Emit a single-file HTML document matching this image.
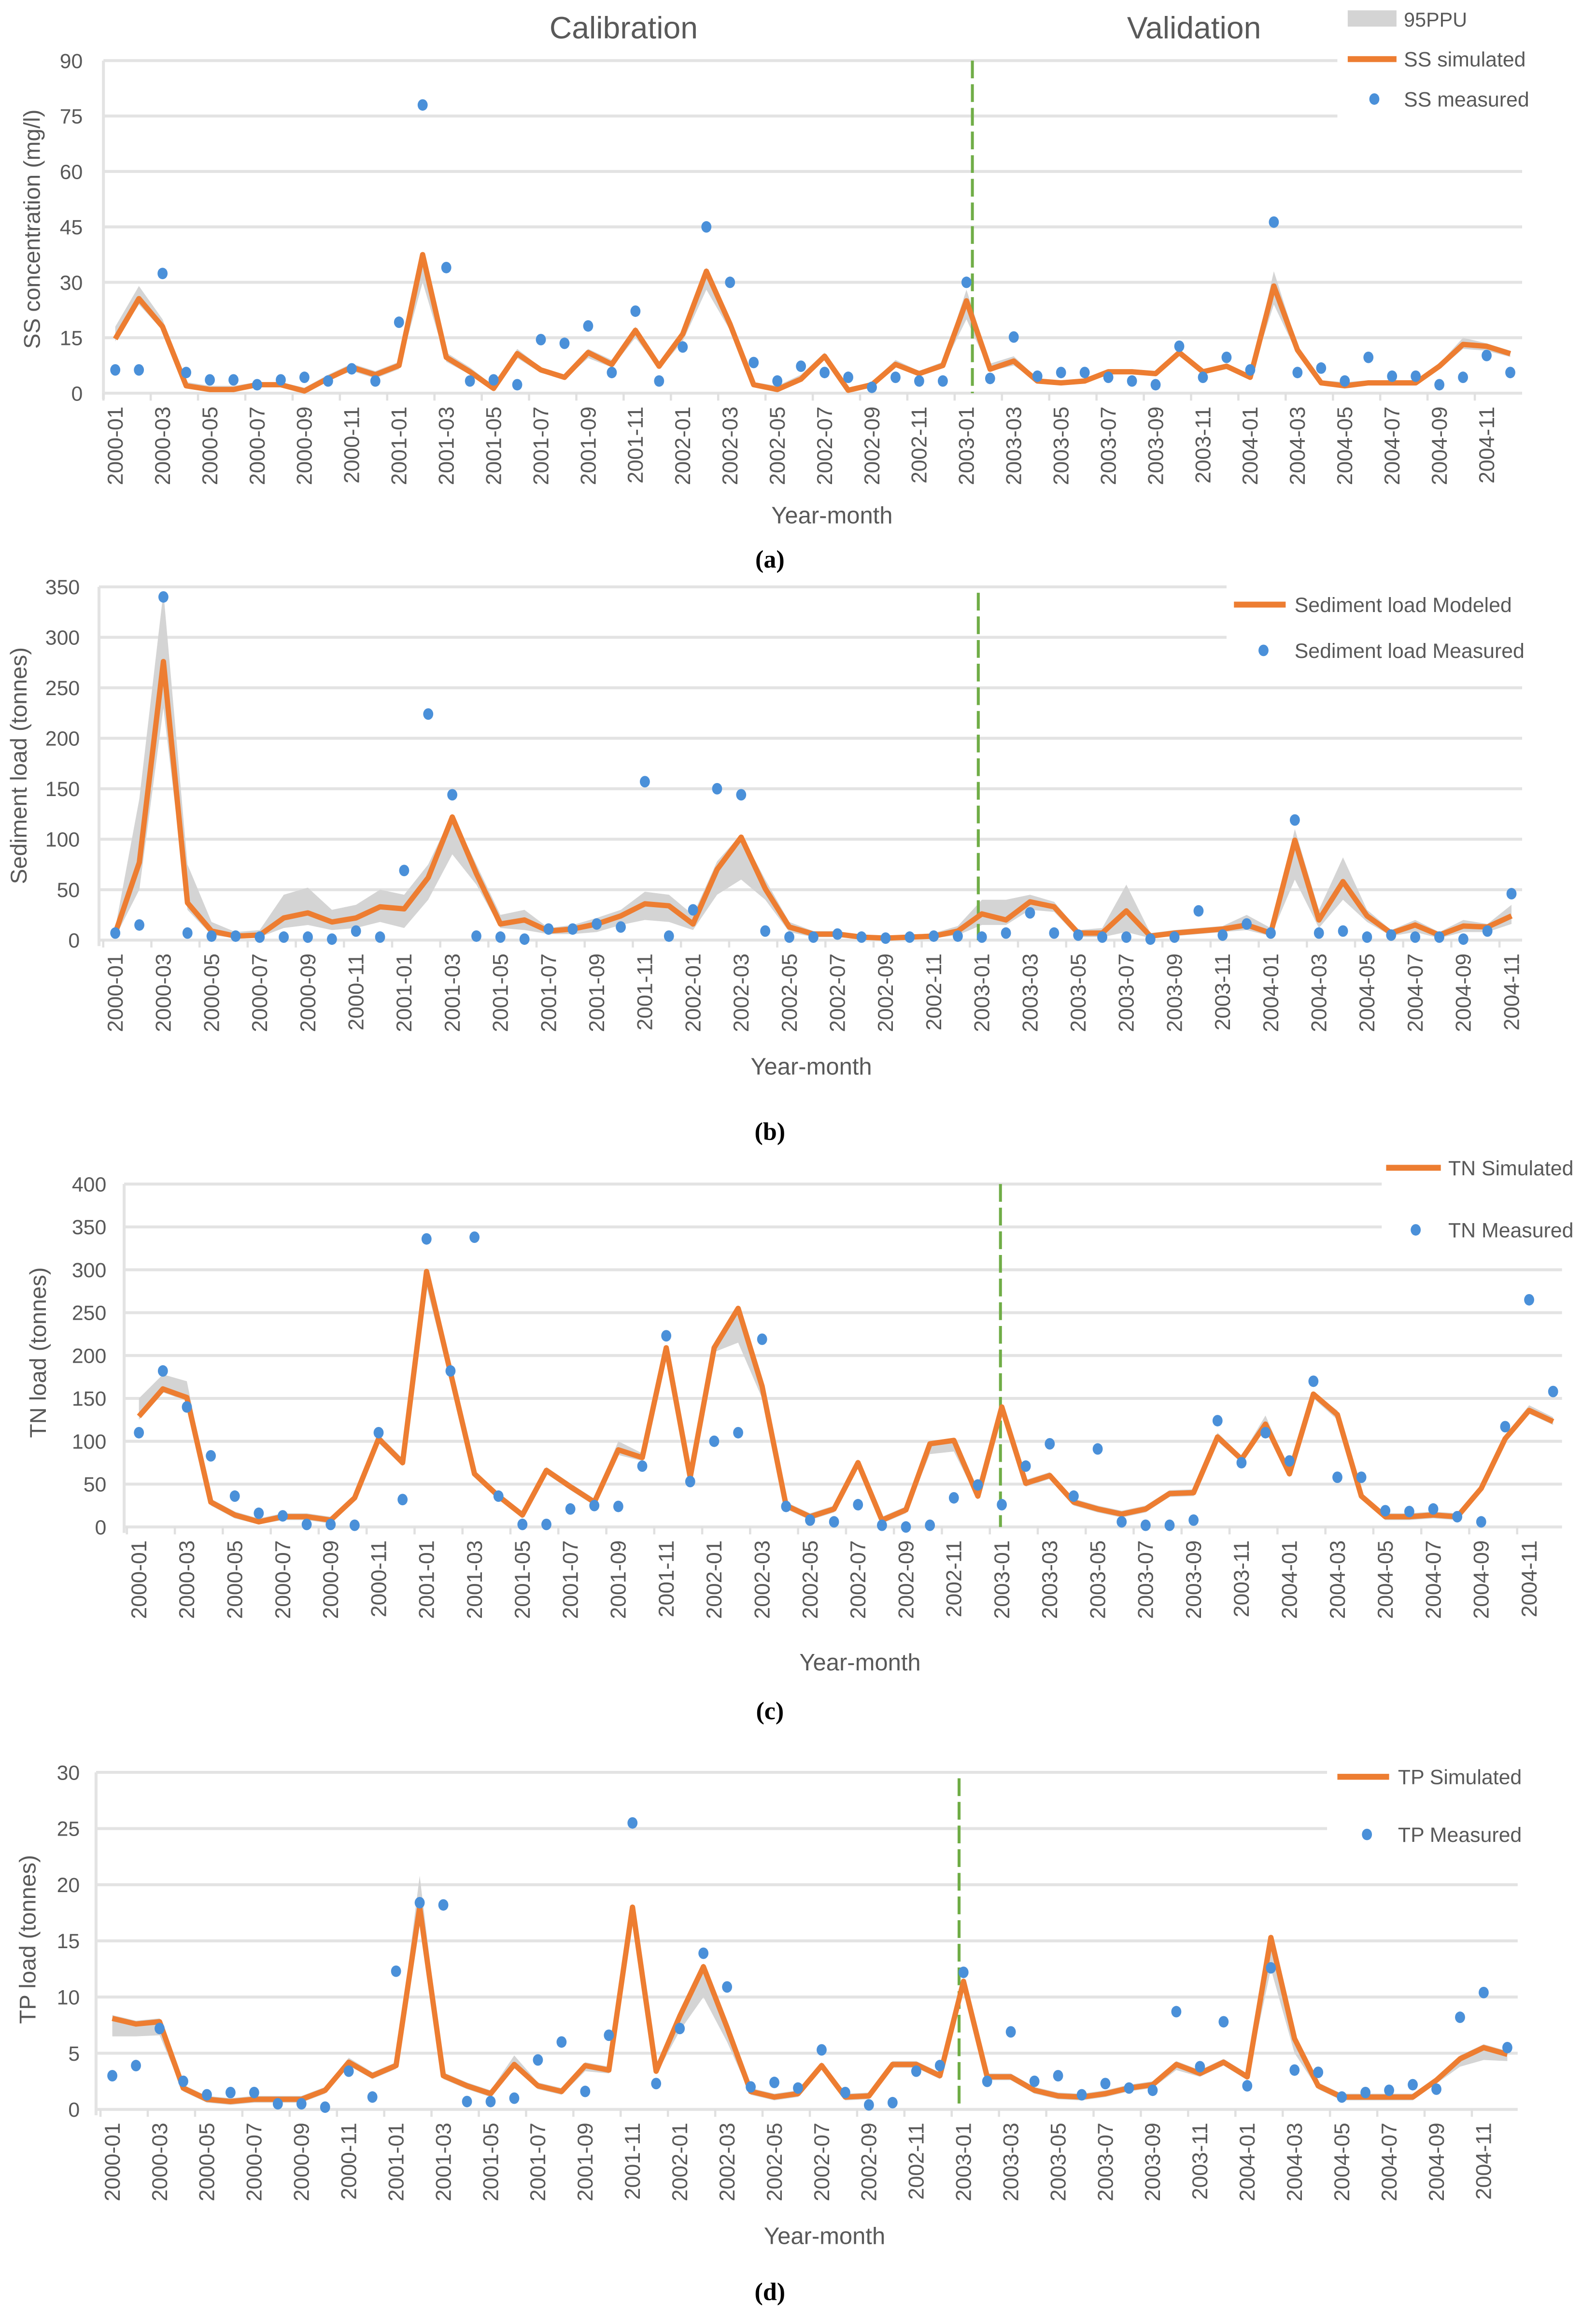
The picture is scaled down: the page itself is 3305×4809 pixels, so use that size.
<!DOCTYPE html>
<html><head><meta charset="utf-8">
<style>
html,body{margin:0;padding:0;background:#fff;}
svg{display:block;}
text{font-family:"Liberation Sans",sans-serif;fill:#595959;}
</style></head>
<body>
<svg id="fig" xmlns="http://www.w3.org/2000/svg" width="3305" height="4809" viewBox="0 0 1080 1571.5" preserveAspectRatio="none">
<rect x="0" y="0" width="1080" height="1571.5" fill="#fff"/>
<text x="422" y="26" font-size="21" text-anchor="middle">Calibration</text>
<text x="808" y="26" font-size="21" text-anchor="middle">Validation</text>
</svg>
<script>
// ---------- data ----------
const ssSim=[14.7,25.6,18,2,1,1,2.3,2.3,0.6,4,7,5,7.5,37.5,9.7,5.8,1.3,10.7,6.3,4.3,11,7.8,17,7.3,16,33,18.7,2.3,1,3.8,10,0.8,2.3,7.8,5.3,7.5,25,6.5,8.7,3.3,2.8,3.3,5.8,5.8,5.3,11,5.8,7.3,4.3,29,11.7,2.8,2,2.8,2.8,2.8,7.3,13.2,12.7,10.7];
const ssHi=[18,29,20,3,2,2,3,3,1.5,5,8,6,8.5,38,11,7,2,12,7,5,12,9,18,8.5,17,34,20,3,2,5,11,1.5,3,9,6,8.5,28,8,10,4,3.5,4,6.5,6.5,6,12,6.5,8,5,33,13,3.5,3,3.5,3.5,3.5,8,15,13.5,11.5];
const ssLo=[14,24,17,1.5,0.5,0.5,2,2,0.3,3.5,6,4,6.5,30,8.5,5,1,9.5,5.5,3.8,9.5,7,15,6.5,14,28,17,2,0.7,3.3,9,0.5,2,7,4.8,7,20,6,7.5,3,2.5,3,5.2,5.2,4.8,10,5.2,6.5,4,24,10.5,2.3,1.7,2.3,2.3,2.3,6.5,12,11.5,9.8];
const ssMeas=[6.3,6.3,32.4,5.6,3.6,3.6,2.3,3.6,4.3,3.3,6.6,3.3,19.2,78,34,3.3,3.6,2.3,14.5,13.5,18.2,5.6,22.2,3.3,12.5,45,30,8.3,3.3,7.3,5.6,4.3,1.6,4.3,3.3,3.3,30,4,15.2,4.6,5.6,5.6,4.3,3.3,2.3,12.7,4.3,9.7,6.3,46.3,5.6,6.8,3.3,9.7,4.6,4.6,2.3,4.3,10.2,5.6];

const sedSim=[7,77,276,37,9,4,5,22,27,18,22,33,31,62,122,66,16,20,9,11,16,24,36,34,16,70,102,51,13,6,6,3,2,3,4,9,26,20,38,33,7,7,29,4,7,9,11,15,7,99,20,58,24,7,15,5,14,13,24];
const sedHi=[12,140,345,75,18,8,10,45,52,30,35,50,45,75,125,75,25,30,12,15,22,30,48,45,25,78,105,60,18,9,9,5,4,5,7,14,40,40,45,38,10,12,55,7,10,12,14,25,12,110,30,82,30,10,20,8,20,16,35];
const sedLo=[3,50,230,30,5,2,3,12,15,10,12,18,12,40,85,55,12,10,6,6,8,15,20,18,10,45,60,40,8,3,3,1,0.5,1,2,5,15,15,30,28,3,3,8,2,4,6,8,10,4,60,12,40,18,4,8,2,8,8,16];
const sedMeas=[7,15,340,7,4,4,3,3,3,1,9,3,69,224,144,4,3,1,11,11,16,13,157,4,30,150,144,9,3,3,6,3,2,3,4,4,3,7,27,7,5,3,3,1,3,29,5,16,7,119,7,9,3,5,3,3,1,9,46];

const tnSim=[129,161,151,29,14,6,12,12,8,34,103,75,298,180,62,36,14,66,47,29,90,81,209,58,209,255,164,25,12,21,75,8,20,97,101,36,140,51,60,29,21,15,21,39,40,105,79,120,62,155,131,36,12,12,14,12,45,103,136,123];
const tnHi=[150,178,170,33,18,10,16,16,12,38,108,80,300,190,66,40,18,70,51,33,100,86,212,62,214,258,168,29,16,25,79,12,24,100,104,40,143,55,64,33,25,19,25,43,44,110,83,130,66,157,136,40,16,16,18,16,49,107,142,128];
const tnLo=[125,157,147,25,10,3,8,8,4,30,98,71,280,170,58,32,10,62,43,25,84,77,204,54,204,215,150,21,8,17,71,4,16,85,88,32,135,47,56,25,17,11,17,35,36,100,75,115,58,150,125,32,8,8,10,8,41,99,132,119];
const tnMeas=[110,182,140,83,36,16,13,3,3,2,110,32,336,182,338,36,3,3,21,25,24,71,223,53,100,110,219,24,8,6,26,2,0,2,34,49,26,71,97,36,91,6,2,2,8,124,75,110,77,170,58,58,19,18,21,12,6,117,265,158];

const tpSim=[8.1,7.6,7.8,1.9,0.9,0.7,0.9,0.9,0.9,1.7,4.2,3.0,3.9,18,3.0,2.1,1.4,4,2.1,1.6,3.9,3.5,18,3.4,8.3,12.7,7.3,1.6,1.1,1.4,3.9,1.1,1.2,4.0,4.0,3.0,11.4,2.9,2.9,1.7,1.2,1.1,1.4,1.9,2.2,4.0,3.2,4.2,2.9,15.3,6.3,2.1,1.1,1.1,1.1,1.1,2.6,4.5,5.5,4.9];
const tpHi=[8.4,7.9,8.1,2.2,1.2,1.0,1.2,1.2,1.2,2.0,4.6,3.3,4.2,20.8,3.3,2.4,1.7,4.8,2.4,1.9,4.2,3.8,18.3,3.7,8.6,13,7.6,1.9,1.4,1.7,4.2,1.4,1.5,4.3,4.3,3.3,11.7,3.2,3.2,2.0,1.5,1.4,1.7,2.2,2.5,4.3,3.5,4.5,3.2,15.6,6.6,2.4,1.4,1.4,1.4,1.4,2.9,4.8,5.8,5.2];
const tpLo=[6.5,6.5,6.6,1.6,0.6,0.4,0.6,0.6,0.6,1.4,3.9,2.7,3.6,17,2.7,1.8,1.1,3.7,1.8,1.3,3.4,3.2,17,3.1,7,10,6,1.3,0.8,1.1,3.6,0.8,0.9,3.7,3.7,2.7,11,2.6,2.6,1.4,0.9,0.8,1.1,1.6,1.9,3.5,2.9,3.9,2.6,12.5,5,1.8,0.8,0.8,0.8,0.8,2.3,3.8,4.4,4.3];
const tpMeas=[3.0,3.9,7.2,2.5,1.3,1.5,1.5,0.5,0.5,0.2,3.4,1.1,12.3,18.4,18.2,0.7,0.7,1.0,4.4,6.0,1.6,6.6,25.5,2.3,7.2,13.9,10.9,2.0,2.4,1.9,5.3,1.5,0.4,0.6,3.4,3.9,12.2,2.5,6.9,2.5,3.0,1.3,2.3,1.9,1.7,8.7,3.8,7.8,2.1,12.6,3.5,3.3,1.1,1.5,1.7,2.2,1.8,8.2,10.4,5.5];

const ssTicks=[0,15,30,45,60,75,90];
const sedTicks=[0,50,100,150,200,250,300,350];
const tnTicks=[0,50,100,150,200,250,300,350,400];
const tpTicks=[0,5,10,15,20,25,30];

const monthLabels=[];
for(let y=2000;y<=2004;y++){for(let m=1;m<=12;m++){monthLabels.push(y+'-'+(m<10?'0':'')+m);}}

// ---------- drawing ----------
const NS='http://www.w3.org/2000/svg';
const svg=document.getElementById('fig');
function mk(tag,attrs,parent){const e=document.createElementNS(NS,tag);for(const k in attrs)e.setAttribute(k,attrs[k]);(parent||svg).appendChild(e);return e;}

function drawPanel(c){
  const g=mk('g',{});
  
  
  const maxV=c.ticks[c.ticks.length-1];
  const xS=i=>c.x0+c.dx*i;
  const yS=v=>c.y0-(v/maxV)*(c.y0-c.yTop);
  // gridlines
  c.ticks.forEach((t,k)=>{
    const short=k>=c.ticks.length-c.nShort;
    const ln=mk('line',{x1:c.axisL,x2:short?c.shortR:c.gridR,y1:yS(t),y2:yS(t),stroke:'#e3e3e3','stroke-width':2},g);
    
    
    const tx=mk('text',{x:c.tickX,y:yS(t)+5,'font-size':14,'text-anchor':'end'},g);
    tx.textContent=t;
    
    
  });
  const ax=mk('line',{x1:c.axisL,x2:c.axisL,y1:c.yTop,y2:c.y0+4,stroke:'#e3e3e3','stroke-width':2},g);
  
  
  const n=c.sim.length;
  // x tick marks & labels
  for(let i=0;i<n;i++){
    if(i%2===0){
      const tx=mk('text',{x:0,y:0,'font-size':14.5,'text-anchor':'end',transform:'translate('+(xS(i)+5)+','+c.labTop+') rotate(-90)'},g);
      tx.textContent=monthLabels[i];
      
      
      const tk=mk('line',{x1:xS(i)-c.dx/2,x2:xS(i)-c.dx/2,y1:c.y0,y2:c.y0+5,stroke:'#e0e0e0','stroke-width':1.5},g);
      
      
    }
  }
  // band
  let pts=[];
  for(let i=0;i<n;i++)pts.push(xS(i)+','+yS(c.hi[i]));
  for(let i=n-1;i>=0;i--)pts.push(xS(i)+','+yS(c.lo[i]));
  const band=mk('polygon',{points:pts.join(' '),fill:'#d4d4d4'},g);
  
  
  // dashed line
  const vl=mk('line',{x1:c.vx,x2:c.vx,y1:c.vTop,y2:c.y0,stroke:'#70AD47','stroke-width':2,'stroke-dasharray':'12 4'},g);
  
  
  // sim line
  const lp=[];
  for(let i=0;i<n;i++)lp.push(xS(i)+','+yS(c.sim[i]));
  const pl=mk('polyline',{points:lp.join(' '),fill:'none',stroke:'#ED7D31','stroke-width':3.6,'stroke-linejoin':'round'},g);
  
  
  // measured
  c.meas.forEach((v,i)=>{
    const d=mk('ellipse',{cx:xS(i),cy:yS(v),rx:3.4,ry:3.9,fill:'#4A90D9'},g);
    
    
  });
  // titles
  const yt=mk('text',{x:0,y:0,'font-size':15.5,'text-anchor':'middle',transform:'translate('+c.ytX+','+c.ytY+') rotate(-90)'},g);
  yt.textContent=c.ytitle;
  
  
  const xt=mk('text',{x:c.xtX,y:c.xtY,'font-size':16,'text-anchor':'middle'},g);
  xt.textContent='Year-month';
  
  
  const cap=mk('text',{x:521,y:c.capY,'font-size':17,'font-weight':'bold','text-anchor':'middle',style:'font-family:"Liberation Serif",serif;fill:#000'},g);
  cap.textContent=c.cap;
  
  
  // legend
  const L=c.leg;
  if(L.band){
    const r=mk('rect',{x:L.lx1,y:L.bandY-6,width:L.lx2-L.lx1,height:11,fill:'#d4d4d4'},g);
    
    
    const t=mk('text',{x:L.tx,y:L.bandY+5,'font-size':13.5},g);
    t.textContent='95PPU';
    
    
  }
  const ll=mk('line',{x1:L.lx1,x2:L.lx2,y1:L.lineY,y2:L.lineY,stroke:'#ED7D31','stroke-width':4},g);
  
  
  const lt=mk('text',{x:L.tx,y:L.lineY+5,'font-size':14},g);
  lt.textContent=L.simText;
  
  
  const ld=mk('ellipse',{cx:L.dotX,cy:L.dotY,rx:3.4,ry:3.9,fill:'#4A90D9'},g);
  
  
  const lm=mk('text',{x:L.tx,y:L.dotY+5,'font-size':14},g);
  lm.textContent=L.measText;
  
  
}

drawPanel({id:'ss',sim:ssSim,hi:ssHi,lo:ssLo,meas:ssMeas,ticks:ssTicks,x0:78,dx:16.0,y0:266,yTop:41,axisL:70,gridR:1030,shortR:905,nShort:2,tickX:56,labTop:275,vx:658,vTop:41,ytitle:'SS concentration (mg/l)',ytX:27,ytY:155,xtX:563,xtY:354,cap:'(a)',capY:384,
  leg:{band:true,bandY:13,lx1:912,lx2:945,tx:950,lineY:40,dotX:930,dotY:67,simText:'SS simulated',measText:'SS measured'}});
drawPanel({id:'sediment',sim:sedSim,hi:sedHi,lo:sedLo,meas:sedMeas,ticks:sedTicks,x0:78,dx:16.29,y0:636,yTop:397,axisL:67,gridR:1030,shortR:830,nShort:2,tickX:54,labTop:645,vx:662,vTop:401,ytitle:'Sediment load (tonnes)',ytX:18,ytY:518,xtX:549,xtY:727,cap:'(b)',capY:771,
  leg:{band:false,lx1:835,lx2:870,tx:876,lineY:409,dotX:855,dotY:440,simText:'Sediment load Modeled',measText:'Sediment load Measured'}});
drawPanel({id:'tn',sim:tnSim,hi:tnHi,lo:tnLo,meas:tnMeas,ticks:tnTicks,x0:94,dx:16.22,y0:1033,yTop:801,axisL:84,gridR:1057,shortR:935,nShort:2,tickX:72,labTop:1042,vx:677,vTop:801,ytitle:'TN load (tonnes)',ytX:31,ytY:915,xtX:582,xtY:1130,cap:'(c)',capY:1163,
  leg:{band:false,lx1:938,lx2:975,tx:980,lineY:790,dotX:958,dotY:832,simText:'TN Simulated',measText:'TN Measured'}});
drawPanel({id:'tp',sim:tpSim,hi:tpHi,lo:tpLo,meas:tpMeas,ticks:tpTicks,x0:76,dx:16.0,y0:1427,yTop:1199,axisL:65,gridR:1027,shortR:898,nShort:2,tickX:54,labTop:1436,vx:649,vTop:1203,ytitle:'TP load (tonnes)',ytX:24,ytY:1312,xtX:558,xtY:1518,cap:'(d)',capY:1556,
  leg:{band:false,lx1:905,lx2:940,tx:946,lineY:1202,dotX:925,dotY:1241,simText:'TP Simulated',measText:'TP Measured'}});
</script>
</body></html>
